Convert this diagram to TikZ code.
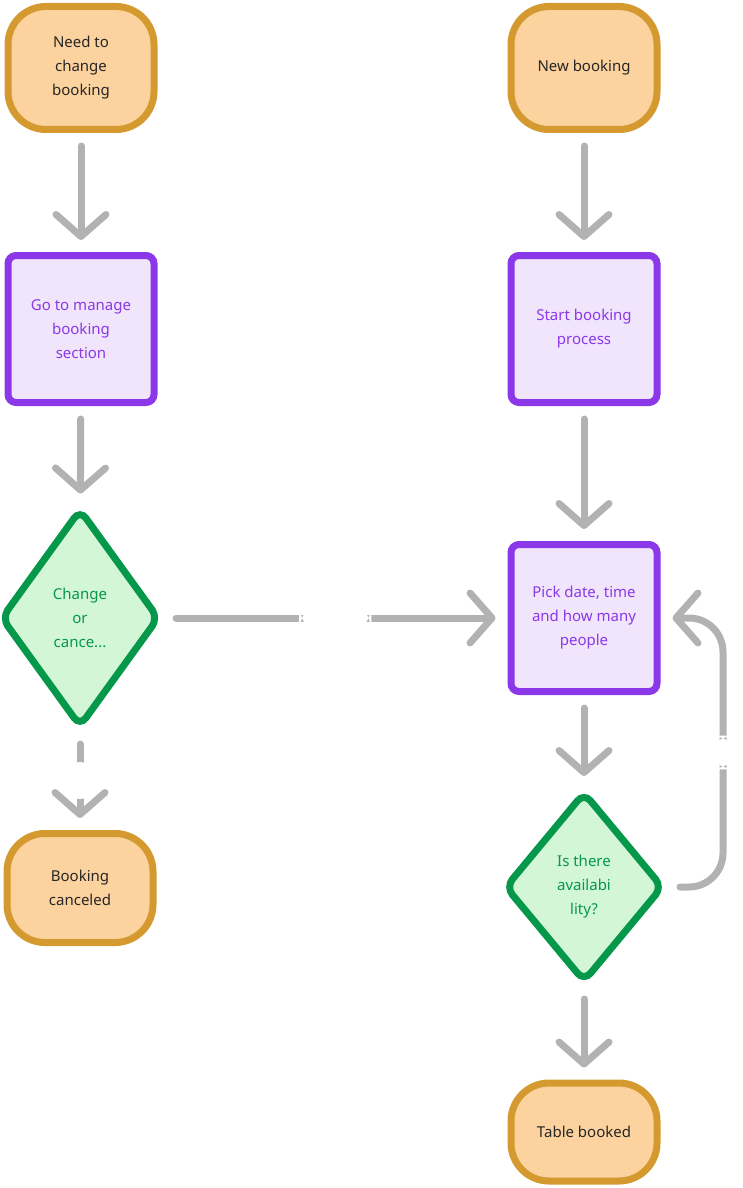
\documentclass[tikz,border=0pt]{standalone}
\usepackage{fontspec}
\setmainfont{Noto Sans}
\usepackage{xcolor}
\usepackage{tikz}
\usetikzlibrary{arrows.meta, positioning, shapes.geometric}
\definecolor{termfill}{RGB}{252,211,158}
\definecolor{termline}{RGB}{212,154,48}
\definecolor{stepfill}{RGB}{241,229,252}
\definecolor{stepline}{RGB}{138,56,232}
\definecolor{askfill}{RGB}{210,246,214}
\definecolor{askline}{RGB}{5,152,75}
\definecolor{flowgray}{RGB}{178,178,178}

\begin{document}
\begin{tikzpicture}[x=1pt, y=-1pt,
    box/.style={line width=7pt, align=center, inner sep=0pt, font=\fontsize{15}{24}\selectfont},
    term/.style={box, draw=termline, fill=termfill, rounded corners=38pt, minimum width=146pt, minimum height=123pt, text=black!85},
    stepbox/.style={box, draw=stepline, fill=stepfill, rounded corners=8pt, minimum width=146pt, minimum height=147pt, text=stepline},
    ask/.style={box, diamond, draw=askline, fill=askfill, rounded corners=10pt, text=askline},
    flow/.style={draw=flowgray, line width=7pt, line cap=round, rounded corners=34pt, shorten >=12pt, shorten <=13pt,
        -{Straight Barb[length=22pt, width=50pt, line join=round, line cap=round]}},
    lbl/.style={fill=white, text=white, inner xsep=12pt, inner ysep=13pt, font=\fontsize{14}{16}\selectfont}]
        \useasboundingbox (0,0) rectangle (743,1188);

        \node[term] (need) at (81,68) {Need to\\change\\booking};
        \node[stepbox] (manage) at (81,329) {Go to manage\\booking\\section};
        \node[ask, minimum width=159pt, minimum height=219pt] (choice) at (80,618) {Change\\or\\cance...};
        \node[term, minimum height=109pt] (canceled) at (80,888) {Booking\\canceled};

        \node[term] (newb) at (584,68) {New booking};
        \node[stepbox] (start) at (584,329) {Start booking\\process};
        \node[stepbox] (pick) at (584,618) {Pick date, time\\and how many\\people};
        \node[ask, minimum width=159pt, minimum height=191pt] (avail) at (584,887) {Is there\\availabi\\lity?};
        \node[term, minimum height=98pt] (booked) at (584,1132) {Table booked};

        \draw[flow] (need) -- (manage);
        \draw[flow] (manage) -- (choice);
        \draw[flow] (choice) -- node[lbl] {change} (pick);
        \draw[flow] (choice) -- node[lbl] {cancel} (canceled);
        \draw[flow] (newb) -- (start);
        \draw[flow] (start) -- (pick);
        \draw[flow] (pick) -- (avail);
        \draw[flow] (avail) -- (booked);
        \draw[flow] (avail.east) -- ++(56,0) |- node[lbl, pos=0.25] {no} (pick.east);
\end{tikzpicture}
\end{document}
